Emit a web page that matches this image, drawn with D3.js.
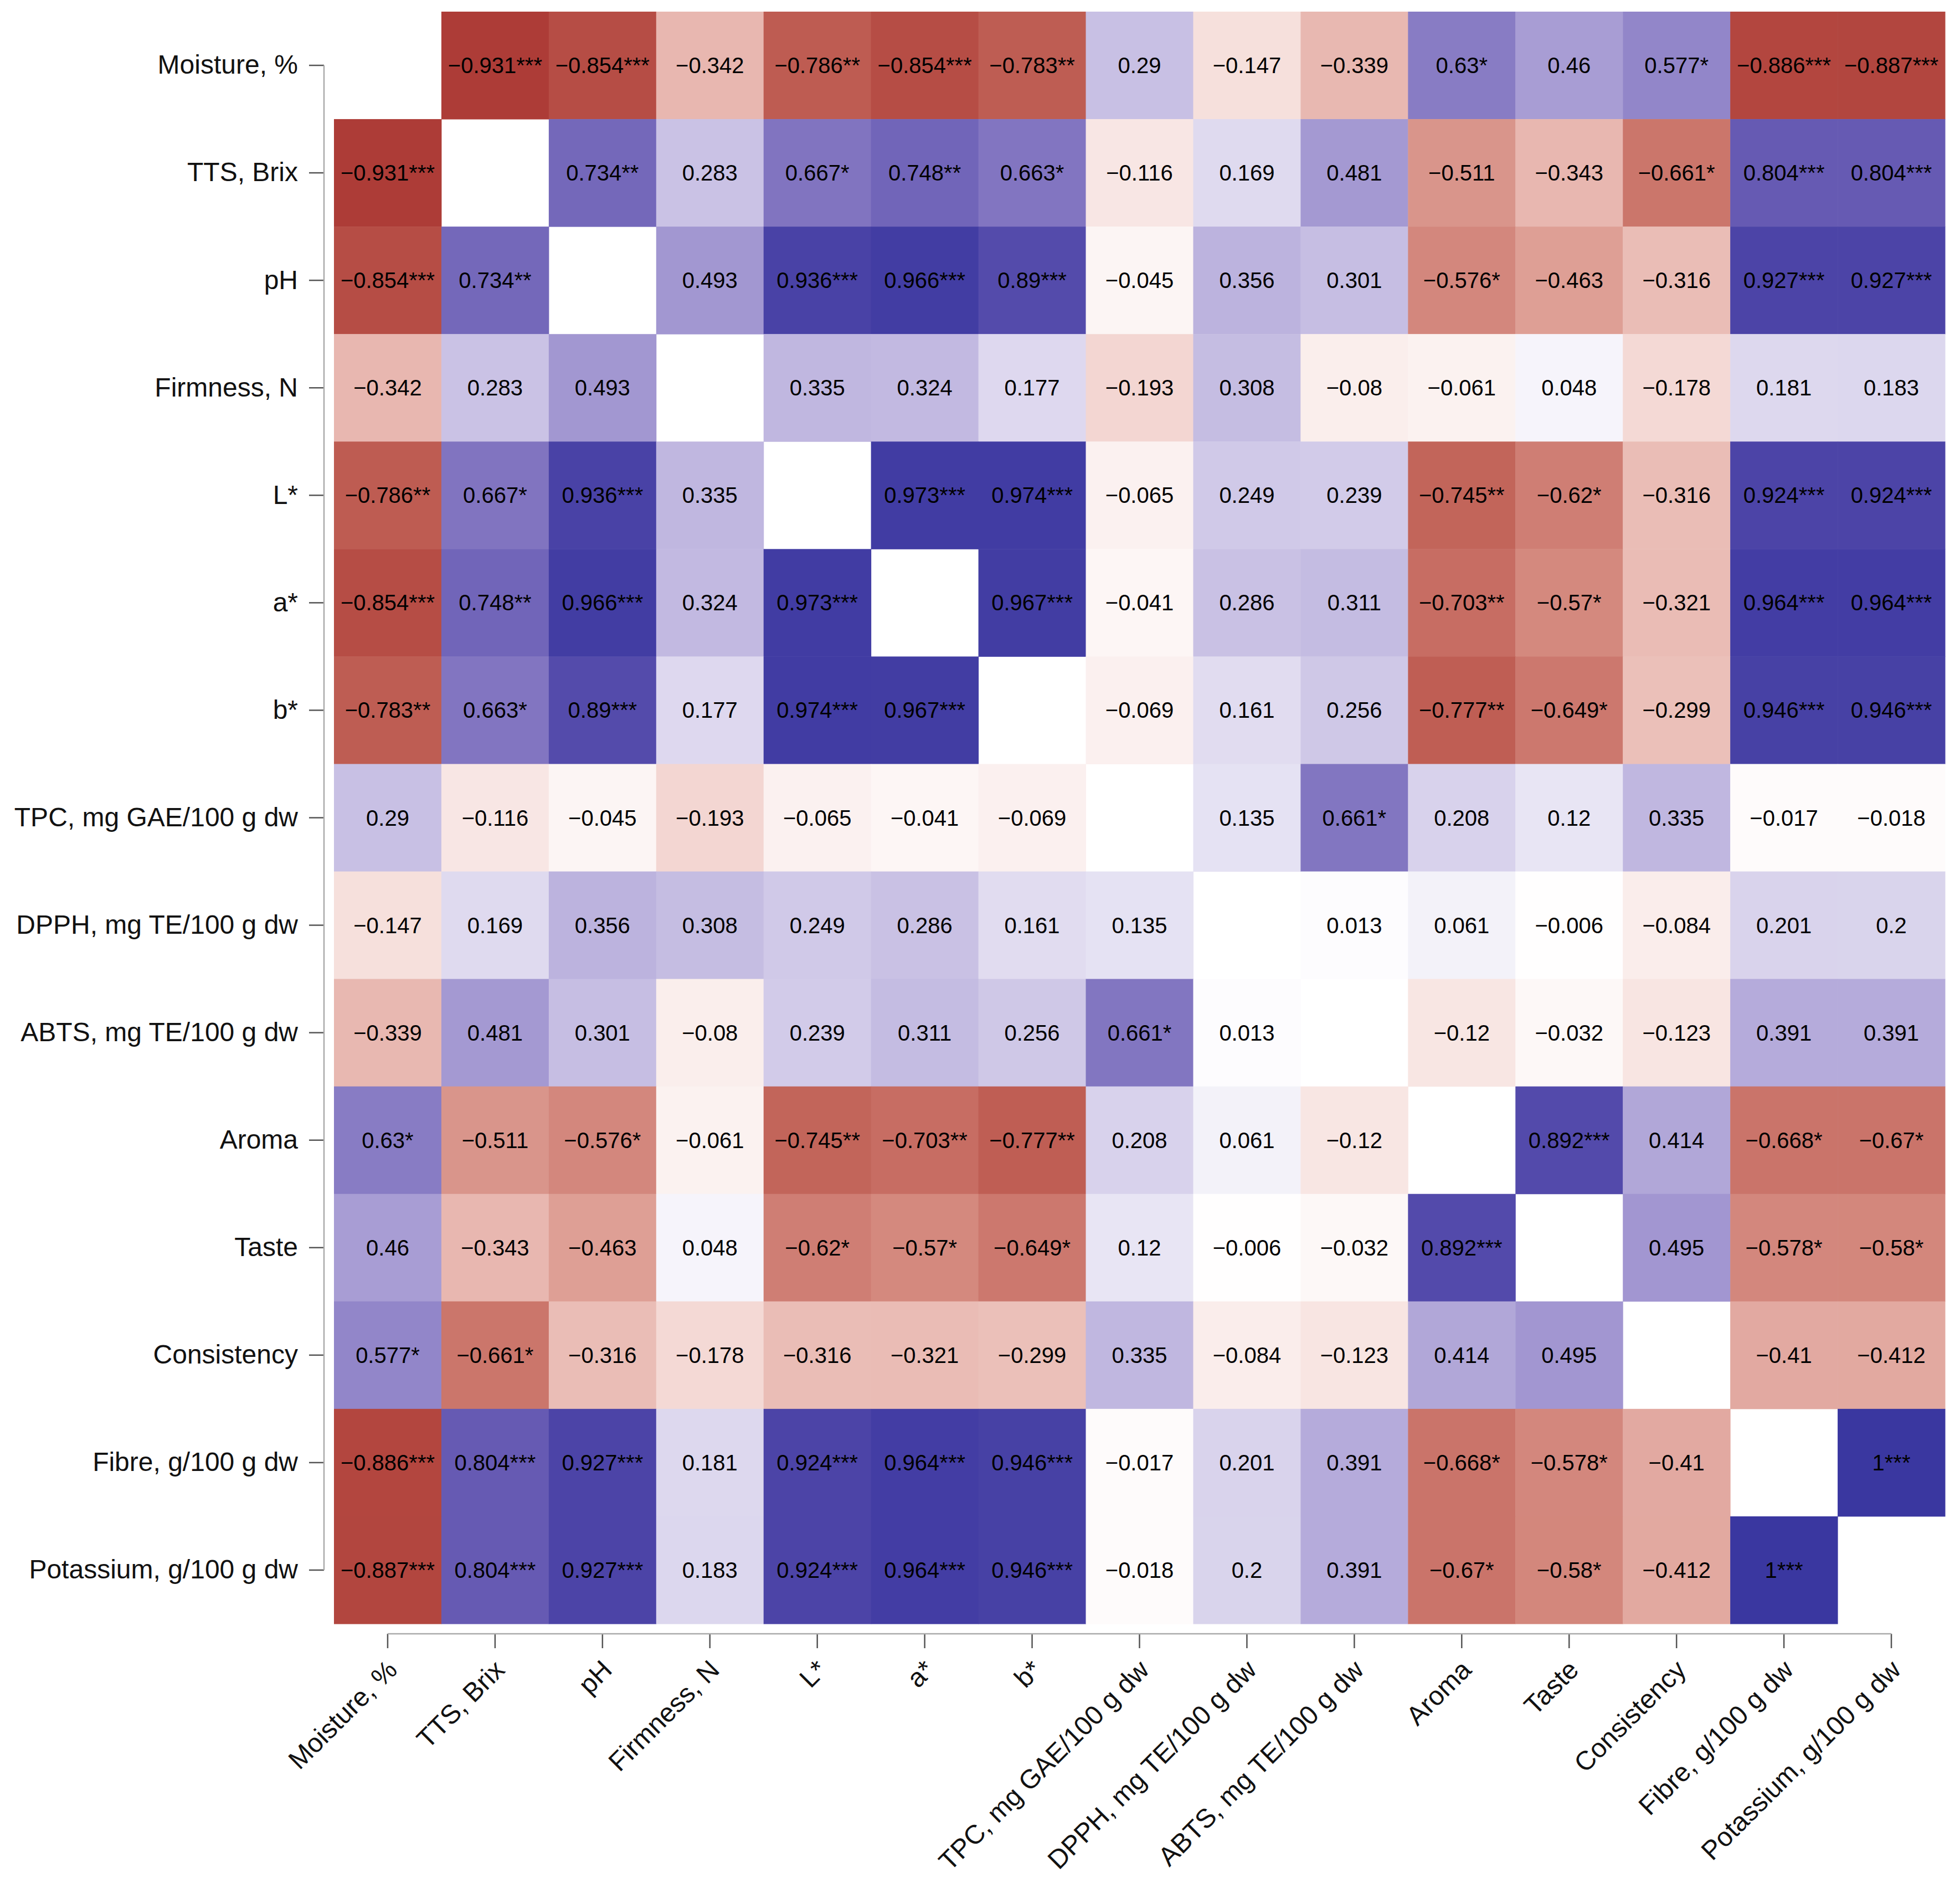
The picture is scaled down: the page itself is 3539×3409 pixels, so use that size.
<!DOCTYPE html>
<html>
<head>
<meta charset="utf-8">
<script src="https://cdn.jsdelivr.net/npm/d3@7"></script>
<style>
  body { margin: 0; background: #fff; }
  text { font-family: "Liberation Sans", Arial, sans-serif; }
</style>
</head>
<body>
<div id="chart"></div>
<script>
var variables = [
    "Moisture, %", "TTS, Brix", "pH", "Firmness, N", "L*", "a*", "b*",
    "TPC, mg GAE/100 g dw", "DPPH, mg TE/100 g dw", "ABTS, mg TE/100 g dw",
    "Aroma", "Taste", "Consistency", "Fibre, g/100 g dw", "Potassium, g/100 g dw"
];

// correlation matrix, rows in the order of variables (null = diagonal, left blank)
var corr = [
    [null, -0.931, -0.854, -0.342, -0.786, -0.854, -0.783, 0.29, -0.147, -0.339, 0.63, 0.46, 0.577, -0.886, -0.887],
    [-0.931, null, 0.734, 0.283, 0.667, 0.748, 0.663, -0.116, 0.169, 0.481, -0.511, -0.343, -0.661, 0.804, 0.804],
    [-0.854, 0.734, null, 0.493, 0.936, 0.966, 0.89, -0.045, 0.356, 0.301, -0.576, -0.463, -0.316, 0.927, 0.927],
    [-0.342, 0.283, 0.493, null, 0.335, 0.324, 0.177, -0.193, 0.308, -0.08, -0.061, 0.048, -0.178, 0.181, 0.183],
    [-0.786, 0.667, 0.936, 0.335, null, 0.973, 0.974, -0.065, 0.249, 0.239, -0.745, -0.62, -0.316, 0.924, 0.924],
    [-0.854, 0.748, 0.966, 0.324, 0.973, null, 0.967, -0.041, 0.286, 0.311, -0.703, -0.57, -0.321, 0.964, 0.964],
    [-0.783, 0.663, 0.89, 0.177, 0.974, 0.967, null, -0.069, 0.161, 0.256, -0.777, -0.649, -0.299, 0.946, 0.946],
    [0.29, -0.116, -0.045, -0.193, -0.065, -0.041, -0.069, null, 0.135, 0.661, 0.208, 0.12, 0.335, -0.017, -0.018],
    [-0.147, 0.169, 0.356, 0.308, 0.249, 0.286, 0.161, 0.135, null, 0.013, 0.061, -0.006, -0.084, 0.201, 0.2],
    [-0.339, 0.481, 0.301, -0.08, 0.239, 0.311, 0.256, 0.661, 0.013, null, -0.12, -0.032, -0.123, 0.391, 0.391],
    [0.63, -0.511, -0.576, -0.061, -0.745, -0.703, -0.777, 0.208, 0.061, -0.12, null, 0.892, 0.414, -0.668, -0.67],
    [0.46, -0.343, -0.463, 0.048, -0.62, -0.57, -0.649, 0.12, -0.006, -0.032, 0.892, null, 0.495, -0.578, -0.58],
    [0.577, -0.661, -0.316, -0.178, -0.316, -0.321, -0.299, 0.335, -0.084, -0.123, 0.414, 0.495, null, -0.41, -0.412],
    [-0.886, 0.804, 0.927, 0.181, 0.924, 0.964, 0.946, -0.017, 0.201, 0.391, -0.668, -0.578, -0.41, null, 1],
    [-0.887, 0.804, 0.927, 0.183, 0.924, 0.964, 0.946, -0.018, 0.2, 0.391, -0.67, -0.58, -0.412, 1, null]
];

// number of significance stars per cell
var stars = [
    [0, 3, 3, 0, 2, 3, 2, 0, 0, 0, 1, 0, 1, 3, 3],
    [3, 0, 2, 0, 1, 2, 1, 0, 0, 0, 0, 0, 1, 3, 3],
    [3, 2, 0, 0, 3, 3, 3, 0, 0, 0, 1, 0, 0, 3, 3],
    [0, 0, 0, 0, 0, 0, 0, 0, 0, 0, 0, 0, 0, 0, 0],
    [2, 1, 3, 0, 0, 3, 3, 0, 0, 0, 2, 1, 0, 3, 3],
    [3, 2, 3, 0, 3, 0, 3, 0, 0, 0, 2, 1, 0, 3, 3],
    [2, 1, 3, 0, 3, 3, 0, 0, 0, 0, 2, 1, 0, 3, 3],
    [0, 0, 0, 0, 0, 0, 0, 0, 0, 1, 0, 0, 0, 0, 0],
    [0, 0, 0, 0, 0, 0, 0, 0, 0, 0, 0, 0, 0, 0, 0],
    [0, 0, 0, 0, 0, 0, 0, 1, 0, 0, 0, 0, 0, 0, 0],
    [1, 0, 1, 0, 2, 2, 2, 0, 0, 0, 0, 3, 0, 1, 1],
    [0, 0, 0, 0, 1, 1, 1, 0, 0, 0, 3, 0, 0, 1, 1],
    [1, 1, 0, 0, 0, 0, 0, 0, 0, 0, 0, 0, 0, 0, 0],
    [3, 3, 3, 0, 3, 3, 3, 0, 0, 0, 1, 1, 0, 0, 3],
    [3, 3, 3, 0, 3, 3, 3, 0, 0, 0, 1, 1, 0, 3, 0]
];

var width = 3539,
    height = 3409,
    grid = {left: 603, right: 3512, top: 21, bottom: 2932};

var cells = [];
corr.forEach((row, i) => {
    row.forEach((v, j) => {
        if (v !== null) cells.push({row: variables[i], col: variables[j], value: v, stars: stars[i][j]});
    });
});

var svg = d3.select("#chart")
    .append("svg")
    .attr("width", width)
    .attr("height", height);

var xScale = d3.scaleBand().domain(variables).range([grid.left, grid.right]);
var yScale = d3.scaleBand().domain(variables).range([grid.top, grid.bottom]);
var color = d3.scaleLinear()
    .domain([-1, 0, 1])
    .range(["#a52a2a", "#ffffff", "#3a37a0"])
    .interpolate(d3.interpolateLab);

var fmt = v => String(v).replace("-", "\u2212");

// tiles
svg.append("g").selectAll("rect")
    .data(cells)
    .enter().append("rect")
    .attr("x", d => xScale(d.col))
    .attr("y", d => yScale(d.row))
    .attr("width", xScale.bandwidth() + 0.5)
    .attr("height", yScale.bandwidth() + 0.5)
    .attr("fill", d => color(d.value));

// labels in tiles
svg.append("g").selectAll("text")
    .data(cells)
    .enter().append("text")
    .attr("x", d => xScale(d.col) + xScale.bandwidth() / 2)
    .attr("y", d => yScale(d.row) + yScale.bandwidth() / 2)
    .attr("text-anchor", "middle")
    .attr("dominant-baseline", "central")
    .attr("font-size", 40)
    .attr("fill", "#000")
    .text(d => fmt(d.value) + "*".repeat(d.stars));

// Y axis
var yAxisX = 585;
var yAxis = svg.append("g")
    .attr("transform", `translate(${yAxisX},0)`)
    .call(d3.axisLeft(yScale).tickSize(27).tickPadding(20).tickSizeOuter(0));
yAxis.select(".domain").remove();
yAxis.selectAll(".tick line").attr("stroke", "#555").attr("stroke-width", 2.5);
yAxis.selectAll(".tick text")
    .attr("font-size", 48)
    .attr("fill", "#111")
    .attr("font-family", "Liberation Sans, Arial, sans-serif");
yAxis.append("line")
    .attr("x1", 0).attr("x2", 0)
    .attr("y1", yScale(variables[0]) + yScale.bandwidth() / 2)
    .attr("y2", yScale(variables[variables.length - 1]) + yScale.bandwidth() / 2)
    .attr("stroke", "#aaa")
    .attr("stroke-width", 2.5);

// X axis
var xAxisY = 2950;
var xAxis = svg.append("g")
    .attr("transform", `translate(0,${xAxisY})`)
    .call(d3.axisBottom(xScale).tickSize(26).tickSizeOuter(0));
xAxis.select(".domain").remove();
xAxis.selectAll(".tick line").attr("stroke", "#555").attr("stroke-width", 2.5);
xAxis.selectAll(".tick text")
    .attr("font-size", 48)
    .attr("fill", "#111")
    .attr("font-family", "Liberation Sans, Arial, sans-serif")
    .attr("x", 0)
    .attr("y", 0)
    .attr("dy", 0)
    .attr("text-anchor", "end")
    .attr("transform", "translate(20,68) rotate(-45)");
xAxis.append("line")
    .attr("y1", 0).attr("y2", 0)
    .attr("x1", xScale(variables[0]) + xScale.bandwidth() / 2)
    .attr("x2", xScale(variables[variables.length - 1]) + xScale.bandwidth() / 2)
    .attr("stroke", "#aaa")
    .attr("stroke-width", 2.5);
</script>
</body>
</html>
